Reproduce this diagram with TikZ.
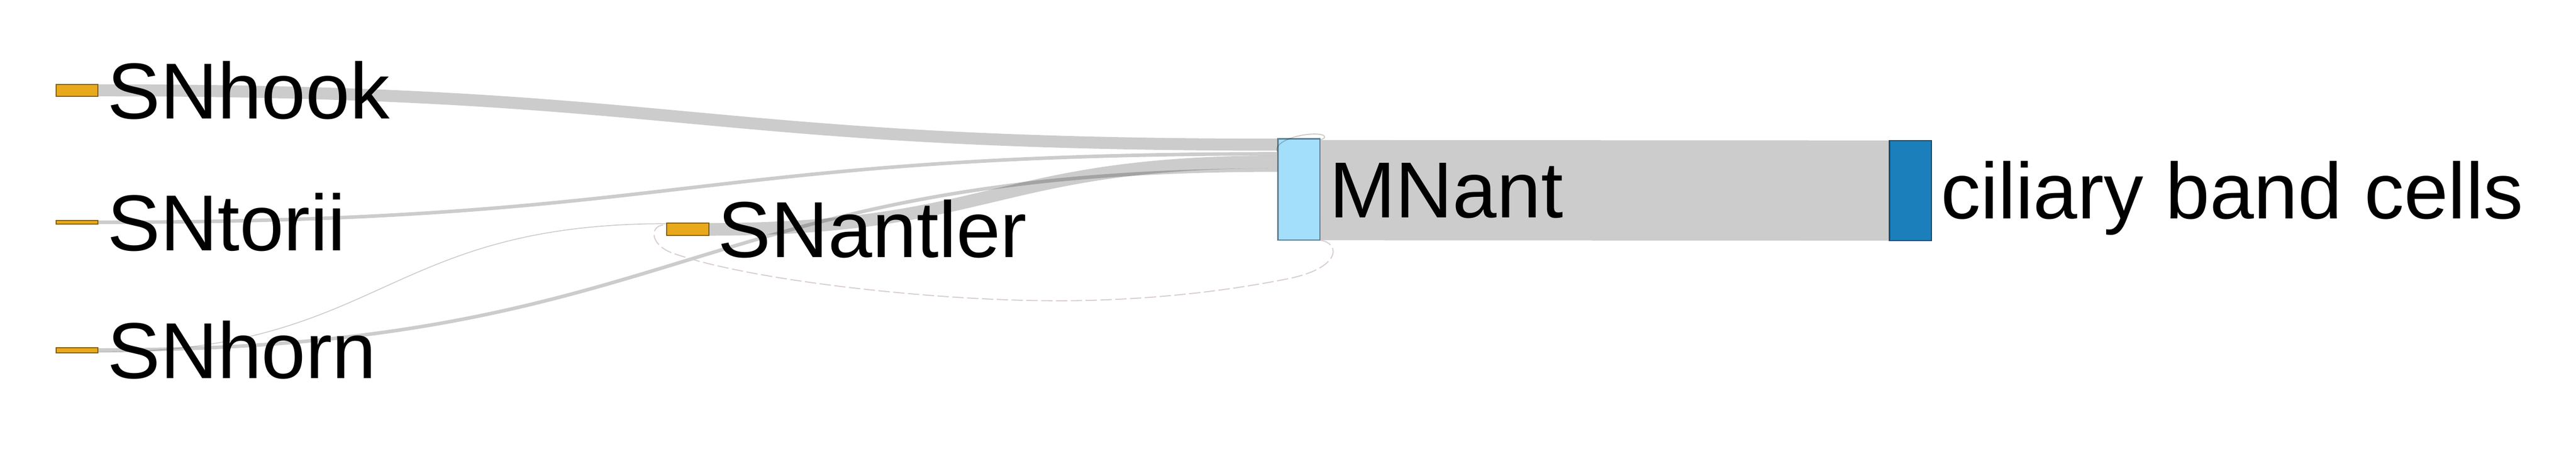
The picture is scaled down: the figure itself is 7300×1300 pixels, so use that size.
\documentclass[tikz,border=0pt]{standalone}
\usepackage{fontspec}
\setmainfont{Liberation Sans}
\usepackage{tikz}
\usetikzlibrary{calc}

\definecolor{snfill}{HTML}{E8A91C}
\definecolor{snline}{HTML}{7F5E14}
\definecolor{mnfill}{HTML}{A3DFFB}
\definecolor{mnline}{HTML}{5C7D8F}
\definecolor{cbfill}{HTML}{1A7FBA}
\definecolor{cbline}{HTML}{16496B}
\definecolor{loopcol}{HTML}{D8CDD3}

\begin{document}
\begin{tikzpicture}[x=0.1pt,y=-0.1pt,
  box/.style={draw,line width=0.3pt,inner sep=0pt,minimum width=11.9pt},
  snbox/.style={box,fill=snfill,draw=snline},
  mnbox/.style={box,fill=mnfill,draw=mnline},
  cbbox/.style={box,fill=cbfill,draw=cbline},
  flow/.style={draw=black,draw opacity=0.2,
    to path={let \p1=(\tikztostart), \p2=(\tikztotarget) in
      .. controls ({(\x1+\x2)/2},\y1) and ({(\x1+\x2)/2},\y2) .. (\tikztotarget)}},
  backflow/.style={draw=loopcol,line width=0.3pt,dash pattern=on 3.2pt off 1pt},
  lbl/.style={anchor=base west,inner sep=0pt,font=\fontsize{22.5}{27}\selectfont}]
\useasboundingbox (0,0) rectangle (7300,1300);

% nodes
\node[snbox,minimum height=3.4pt] (snhook) at (218,256) {};
\node[snbox,minimum height=1.1pt] (sntorii) at (218,630) {};
\node[snbox,minimum height=1.4pt] (snhorn) at (218,993) {};
\node[snbox,minimum height=3.5pt] (snantler) at (1949,650) {};
\node[mnbox,minimum height=28.7pt] (mnant) at (3681,537) {};
\node[cbbox,minimum height=28.3pt] (ciliary) at (5414,540) {};

% link ends
\coordinate (hook-out) at (snhook.east);
\coordinate (torii-out) at (sntorii.east);
\coordinate (horn-out) at ([yshift=0.1pt]snhorn.east);
\coordinate (horn-out2) at ([yshift=-0.5pt]snhorn.east);
\coordinate (antler-out) at (snantler.east);
\coordinate (horn-ant) at ([yshift=1.6pt]snantler.west);
\coordinate (back-in) at ([yshift=1.3pt]snantler.west);
\coordinate (hook-in) at ([yshift=12.7pt]mnant.west);
\coordinate (self-in) at ([yshift=10.7pt]mnant.west);
\coordinate (torii-in) at ([yshift=10.1pt]mnant.west);
\coordinate (antler-in) at ([yshift=7.8pt]mnant.west);
\coordinate (horn-in) at ([yshift=5.5pt]mnant.west);
\coordinate (self-out) at ([yshift=14.1pt]mnant.east);
\coordinate (mn-out) at ([yshift=-0.2pt]mnant.east);
\coordinate (back-out) at ([yshift=-14.4pt]mnant.east);
\coordinate (cb-in) at (ciliary.west);

% flows
\draw[flow,line width=3.4pt] (hook-out) to (hook-in);
\draw[flow,line width=1pt] (torii-out) to (torii-in);
\draw[flow,line width=1pt] (horn-out) to (horn-in);
\draw[flow,line width=0.25pt] (horn-out2) to (horn-ant);
\draw[flow,line width=3.6pt] (antler-out) to (antler-in);
\draw[flow,line width=28.4pt] (mn-out) to (cb-in);
\draw[draw=black,draw opacity=0.2,line width=0.3pt] (self-out)
  .. controls (3760,392) and (3760,379) .. (3722,380)
  .. controls (3670,381) and (3608,405) .. (self-in);
\draw[backflow] (back-out)
  .. controls (3800,690) and (3800,760) .. (3650,790)
  .. controls (3400,840) and (3150,855) .. (2950,852)
  .. controls (2600,848) and (2100,790) .. (1900,715)
  .. controls (1840,690) and (1840,636) .. (back-in);

% labels
\node[lbl] (snhook-lbl) at ([xshift=2.3pt,yshift=-8pt]snhook.east) {SNhook};
\node[lbl] (sntorii-lbl) at ([xshift=2.3pt,yshift=-8pt]sntorii.east) {SNtorii};
\node[lbl] (snhorn-lbl) at ([xshift=2.3pt,yshift=-8pt]snhorn.east) {SNhorn};
\node[lbl] (snantler-lbl) at ([xshift=2.3pt,yshift=-8pt]snantler.east) {SNantler};
\node[lbl] (mnant-lbl) at ([xshift=2.3pt,yshift=-8pt]mnant.east) {MNant};
\node[lbl] (ciliary-lbl) at ([xshift=2.3pt,yshift=-8pt]ciliary.east) {ciliary band cells};
\end{tikzpicture}
\end{document}
